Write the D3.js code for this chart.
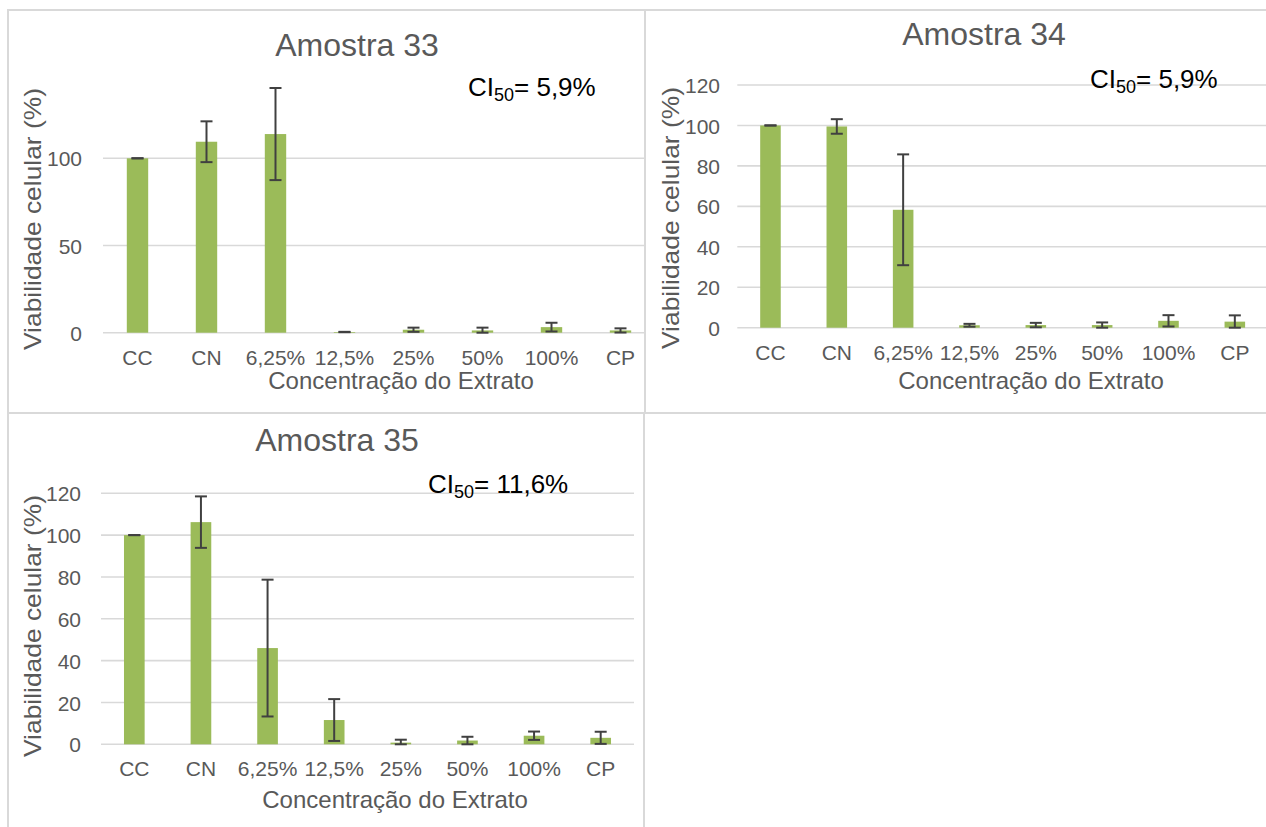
<!DOCTYPE html>
<html>
<head>
<meta charset="utf-8">
<script src="https://cdn.jsdelivr.net/npm/d3@7"></script>
<style>
  html, body { margin: 0; padding: 0; background: #fff; }
  svg { display: block; }
  text { font-family: "Liberation Sans", Arial, sans-serif; }
</style>
</head>
<body>
<svg id="chart" width="1266" height="827"></svg>
<script>
// Concentrations tested (x categories)
const categories = ["CC", "CN", "6,25%", "12,5%", "25%", "50%", "100%", "CP"];

// Cell viability (%) per sample, mean and standard deviation
const amostra33 = [100, 109.5, 113.9, 0.4, 1.7, 1.3, 3.2, 1.3];
const erro33    = [0, 11.7, 26.4, 0.1, 1.2, 1.6, 2.5, 1.2];

const amostra34 = [100, 99.5, 58.3, 1.2, 1.3, 1.3, 3.4, 3.0];
const erro34    = [0, 3.6, 27.4, 0.7, 1.1, 1.3, 2.8, 3.1];

const amostra35 = [100, 106.2, 46.0, 11.6, 0.8, 1.8, 4.1, 3.1];
const erro35    = [0, 12.3, 32.7, 10.0, 1.4, 1.8, 2.0, 2.9];

// Y-axis ticks and maxima
const ticks33 = [0, 50, 100];
const ticks34 = [0, 20, 40, 60, 80, 100, 120];
const ticks35 = [0, 20, 40, 60, 80, 100, 120];
const max33 = 140, max34 = 120, max35 = 120;

// Titles and IC50 annotations
const titles = ["Amostra 33", "Amostra 34", "Amostra 35"];
const ic50 = ["5,9%", "5,9%", "11,6%"];
const xTitle = "Concentração do Extrato";
const yTitle = "Viabilidade celular (%)";

const svg = d3.select("#chart");
const GRID = "#d9d9d9", TXT = "#595959", BAR = "#9bbb59", ERR = "#404040";

// Panel frames
const frames = [
  {x: 8, y: 10, w: 637, h: 403},
  {x: 645, y: 10, w: 640, h: 403},
  {x: 8, y: 413, w: 636, h: 440}
];
frames.forEach(f => {
  svg.append("rect").attr("x", f.x).attr("y", f.y).attr("width", f.w).attr("height", f.h)
    .attr("fill", "none").attr("stroke", GRID).attr("stroke-width", 2);
});

function drawPanel(cfg, values, errors, tickVals, yMax, title, ci) {
  const g = svg.append("g");
  const x = d3.scaleBand().domain(categories).range([cfg.left, cfg.right])
    .paddingInner(0.69).paddingOuter(0.345);
  const y = d3.scaleLinear().domain([0, yMax]).range([cfg.zero, cfg.zero - yMax * cfg.k]);
  const gridRight = Math.min(cfg.right, cfg.clip);

  // gridlines
  g.append("g").selectAll("line").data(tickVals).join("line")
    .attr("x1", cfg.left).attr("x2", gridRight)
    .attr("y1", d => y(d)).attr("y2", d => y(d))
    .attr("stroke", GRID).attr("stroke-width", 1.6);

  // y tick labels
  const yAxis = d3.axisLeft(y).tickValues(tickVals).tickSize(0).tickPadding(0);
  const ya = g.append("g").attr("transform", `translate(${cfg.tickRight},0)`).call(yAxis);
  ya.select(".domain").remove();
  ya.selectAll("text").attr("fill", TXT).attr("font-size", 21)
    .attr("font-family", "Liberation Sans, Arial, sans-serif").attr("dy", "0.36em");

  // bars
  g.append("g").selectAll("rect").data(values).join("rect")
    .attr("x", (d, i) => x(categories[i]))
    .attr("width", x.bandwidth())
    .attr("y", d => y(d))
    .attr("height", d => y(0) - y(d))
    .attr("fill", BAR);

  // error bars
  const eb = g.append("g").attr("stroke", ERR).attr("stroke-width", 2).attr("fill", "none");
  values.forEach((v, i) => {
    const cx = x(categories[i]) + x.bandwidth() / 2;
    const hi = y(v + errors[i]), lo = y(Math.max(0, v - errors[i]));
    const cw = 6;
    if (errors[i] > 0) eb.append("line").attr("x1", cx).attr("x2", cx).attr("y1", hi).attr("y2", lo);
    eb.append("line").attr("x1", cx - cw).attr("x2", cx + cw).attr("y1", hi).attr("y2", hi);
    eb.append("line").attr("x1", cx - cw).attr("x2", cx + cw).attr("y1", lo).attr("y2", lo);
  });

  // x tick labels
  const xAxis = d3.axisBottom(x).tickSize(0).tickPadding(0);
  const xa = g.append("g").attr("transform", `translate(0,${cfg.xTickY})`).call(xAxis);
  xa.select(".domain").remove();
  xa.selectAll("text").attr("fill", TXT).attr("font-size", 21)
    .attr("font-family", "Liberation Sans, Arial, sans-serif").attr("dy", 0).attr("y", 0);

  // chart title
  g.append("text").attr("x", cfg.titleX).attr("y", cfg.titleY).attr("text-anchor", "middle")
    .attr("fill", TXT).attr("font-size", 32).text(title);

  // axis titles
  g.append("text").attr("x", cfg.xTitleX).attr("y", cfg.xTitleY).attr("text-anchor", "middle")
    .attr("fill", TXT).attr("font-size", 24).text(xTitle);
  g.append("text").attr("transform", `translate(${cfg.yTitleX},${cfg.yTitleY}) rotate(-90)`)
    .attr("text-anchor", "middle").attr("fill", TXT).attr("font-size", 24)
    .attr("textLength", 262).attr("lengthAdjust", "spacingAndGlyphs").text(yTitle);

  // IC50 annotation
  const t = g.append("text").attr("x", cfg.ciX).attr("y", cfg.ciY).attr("fill", "#000").attr("font-size", 26);
  t.append("tspan").text("CI");
  t.append("tspan").attr("font-size", 18).attr("dy", 5).text("50");
  t.append("tspan").attr("dy", -5).text("= " + ci);
}

drawPanel({left: 103, right: 655, clip: 644, zero: 332.7, k: 1.744, tickRight: 82,
  xTickY: 365, titleX: 357, titleY: 56, xTitleX: 401, xTitleY: 389,
  yTitleX: 41, yTitleY: 219, ciX: 468, ciY: 96}, amostra33, erro33, ticks33, max33, titles[0], ic50[0]);

drawPanel({left: 737.3, right: 1268, clip: 1266, zero: 327.7, k: 2.0225, tickRight: 720,
  xTickY: 360, titleX: 984, titleY: 45, xTitleX: 1031, xTitleY: 389,
  yTitleX: 679, yTitleY: 218, ciX: 1090, ciY: 88}, amostra34, erro34, ticks34, max34, titles[1], ic50[1]);

drawPanel({left: 101, right: 634, clip: 643, zero: 744.3, k: 2.092, tickRight: 81,
  xTickY: 776, titleX: 337, titleY: 451, xTitleX: 395, xTitleY: 808,
  yTitleX: 41, yTitleY: 626, ciX: 428, ciY: 493}, amostra35, erro35, ticks35, max35, titles[2], ic50[2]);
</script>
</body>
</html>
